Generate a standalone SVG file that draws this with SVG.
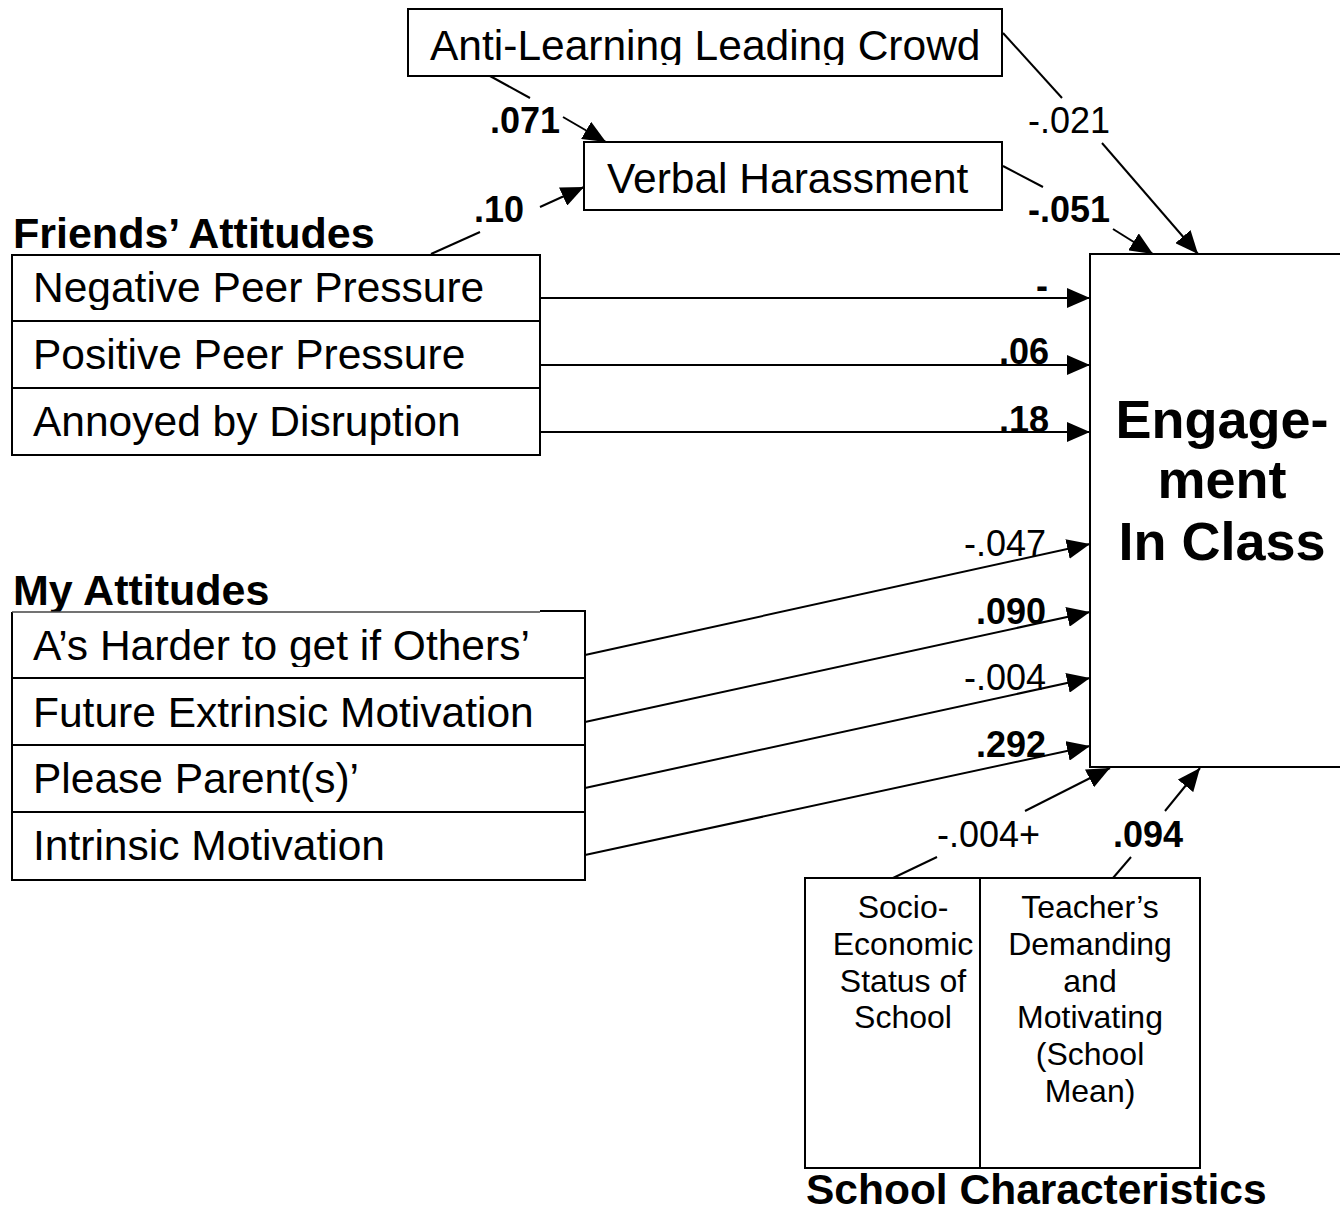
<svg xmlns="http://www.w3.org/2000/svg" width="1340" height="1212" viewBox="0 0 1340 1212">
  <defs>
    <style>
      .box { fill: #fff; stroke: #000; stroke-width: 2; }
      .div { stroke: #000; stroke-width: 2; }
      .t { font-family: "Liberation Sans", Arial, sans-serif; fill: #000; }
      .item { font-size: 42.5px; }
      .head { font-size: 43px; font-weight: bold; }
      .small { font-size: 32px; text-anchor: middle; }
      .big { font-size: 54px; font-weight: bold; text-anchor: middle; }
      .lbl { font-family: "Liberation Sans", Arial, sans-serif; font-size: 36px; fill: #000; }
      .b { font-weight: bold; }
      .end { text-anchor: end; }
      .edge { stroke: #000; stroke-width: 2; fill: none; }
      .arrow { marker-end: url(#ah); }
    </style>
    <marker id="ah" markerUnits="userSpaceOnUse" markerWidth="24" markerHeight="20" refX="23" refY="10" orient="auto">
      <path d="M0,0 L23,10 L0,20 z" fill="#000"/>
    </marker>
    <!-- descenders of some labels are trimmed by their cells -->
    <clipPath id="clipAnti"><rect x="408" y="9" width="594" height="56"/></clipPath>
    <clipPath id="clipNeg"><rect x="12" y="255" width="528" height="55"/></clipPath>
    <clipPath id="clipAs"><rect x="12" y="611" width="573" height="56"/></clipPath>
  </defs>

  <rect width="1340" height="1212" fill="#fff"/>

  <!-- connectors -->
  <g id="connectors">
    <!-- Anti-Learning -> Verbal Harassment -->
    <line class="edge" x1="490" y1="76" x2="530" y2="98"/>
    <line class="edge arrow" x1="563" y1="117" x2="606" y2="142"/>
    <text class="lbl b end" x="560" y="133">.071</text>

    <!-- Friends' Attitudes -> Verbal Harassment -->
    <line class="edge" x1="431" y1="254" x2="480" y2="232"/>
    <line class="edge arrow" x1="540" y1="207" x2="584" y2="187"/>
    <text class="lbl b" x="474" y="222">.10</text>

    <!-- Anti-Learning -> Engagement -->
    <line class="edge" x1="1003" y1="33" x2="1062" y2="98"/>
    <line class="edge arrow" x1="1102" y1="143" x2="1198" y2="254"/>
    <text class="lbl" x="1028" y="133">-.021</text>

    <!-- Verbal Harassment -> Engagement -->
    <line class="edge" x1="1003" y1="166" x2="1043" y2="187"/>
    <line class="edge arrow" x1="1113" y1="229" x2="1153" y2="254"/>
    <text class="lbl b" x="1028" y="222">-.051</text>

    <!-- Friends' attitudes -> Engagement -->
    <line class="edge arrow" x1="540" y1="298" x2="1090" y2="298"/>
    <text class="lbl b end" x="1048" y="298">-</text>
    <line class="edge arrow" x1="540" y1="365" x2="1090" y2="365"/>
    <text class="lbl b end" x="1049" y="364">.06</text>
    <line class="edge arrow" x1="540" y1="432" x2="1090" y2="432"/>
    <text class="lbl b end" x="1049" y="432">.18</text>

    <!-- My attitudes -> Engagement -->
    <line class="edge arrow" x1="585" y1="655" x2="1090" y2="544"/>
    <text class="lbl end" x="1046" y="556">-.047</text>
    <line class="edge arrow" x1="585" y1="722" x2="1090" y2="612"/>
    <text class="lbl b end" x="1046" y="624">.090</text>
    <line class="edge arrow" x1="585" y1="788" x2="1090" y2="678"/>
    <text class="lbl end" x="1046" y="690">-.004</text>
    <line class="edge arrow" x1="585" y1="855" x2="1090" y2="746"/>
    <text class="lbl b end" x="1046" y="757">.292</text>

    <!-- School characteristics -> Engagement -->
    <line class="edge" x1="893" y1="878" x2="937" y2="857"/>
    <line class="edge arrow" x1="1025" y1="811" x2="1110" y2="768"/>
    <text class="lbl" x="937" y="847">-.004+</text>
    <line class="edge" x1="1113" y1="878" x2="1131" y2="857"/>
    <line class="edge arrow" x1="1165" y1="811" x2="1200" y2="768"/>
    <text class="lbl b" x="1113" y="847">.094</text>
  </g>

  <!-- Anti-Learning Leading Crowd -->
  <g id="anti-learning">
    <rect class="box" x="408" y="9" width="594" height="67"/>
    <text class="t item" x="430" y="60" clip-path="url(#clipAnti)">Anti-Learning Leading Crowd</text>
  </g>

  <!-- Verbal Harassment -->
  <g id="verbal-harassment">
    <rect class="box" x="584" y="142" width="418" height="68"/>
    <text class="t item" x="607" y="193">Verbal Harassment</text>
  </g>

  <!-- Friends' Attitudes -->
  <g id="friends-attitudes">
    <text class="t head" x="13" y="248">Friends’ Attitudes</text>
    <rect class="box" x="12" y="255" width="528" height="200"/>
    <line class="div" x1="12" y1="321" x2="540" y2="321"/>
    <line class="div" x1="12" y1="388" x2="540" y2="388"/>
    <text class="t item" x="33" y="302" clip-path="url(#clipNeg)">Negative Peer Pressure</text>
    <text class="t item" x="33" y="369">Positive Peer Pressure</text>
    <text class="t item" x="33" y="436">Annoyed by Disruption</text>
  </g>

  <!-- My Attitudes -->
  <g id="my-attitudes">
    <text class="t head" x="13" y="605">My Attitudes</text>
    <path d="M12,612 L12,880 L585,880 L585,611" fill="#fff" stroke="#000" stroke-width="2"/>
    <line x1="12" y1="612" x2="540" y2="612" stroke="#444" stroke-width="1.5"/>
    <line x1="540" y1="611" x2="586" y2="611" stroke="#000" stroke-width="2"/>
    <line class="div" x1="12" y1="678" x2="585" y2="678"/>
    <line class="div" x1="12" y1="745" x2="585" y2="745"/>
    <line class="div" x1="12" y1="812" x2="585" y2="812"/>
    <text class="t item" x="33" y="660" clip-path="url(#clipAs)">A’s Harder to get if Others’</text>
    <text class="t item" x="33" y="727">Future Extrinsic Motivation</text>
    <text class="t item" x="33" y="793">Please Parent(s)’</text>
    <text class="t item" x="33" y="860">Intrinsic Motivation</text>
  </g>

  <!-- Engagement In Class -->
  <g id="engagement">
    <rect class="box" x="1090" y="254" width="270" height="513"/>
    <text class="t big" x="1222" y="438">Engage-</text>
    <text class="t big" x="1222" y="498">ment</text>
    <text class="t big" x="1222" y="560">In Class</text>
  </g>

  <!-- School Characteristics -->
  <g id="school-characteristics">
    <rect class="box" x="805" y="878" width="395" height="290"/>
    <line class="div" x1="980" y1="878" x2="980" y2="1168"/>
    <text class="t small" x="903" y="918">Socio-</text>
    <text class="t small" x="903" y="955">Economic</text>
    <text class="t small" x="903" y="992">Status of</text>
    <text class="t small" x="903" y="1028">School</text>
    <text class="t small" x="1090" y="918">Teacher’s</text>
    <text class="t small" x="1090" y="955">Demanding</text>
    <text class="t small" x="1090" y="992">and</text>
    <text class="t small" x="1090" y="1028">Motivating</text>
    <text class="t small" x="1090" y="1065">(School</text>
    <text class="t small" x="1090" y="1102">Mean)</text>
    <text class="t head" x="806" y="1204" style="font-size:42.5px">School Characteristics</text>
  </g>
</svg>
